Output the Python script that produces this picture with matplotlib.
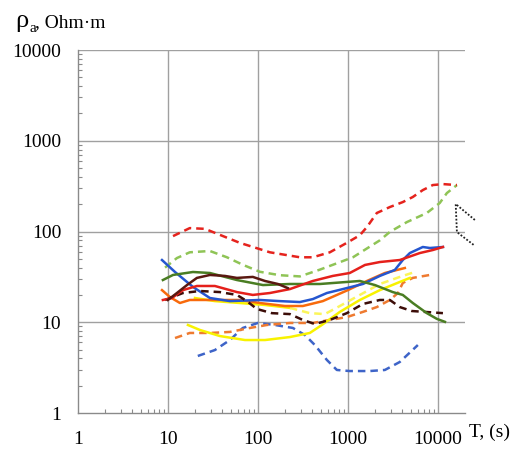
import matplotlib
matplotlib.use("Agg")
import matplotlib.pyplot as plt
from matplotlib.ticker import LogLocator, NullFormatter, FixedLocator

plt.rcParams['font.family'] = ['Liberation Serif', 'DejaVu Serif']

# apparent resistivity curves, period T (s) vs rho_a (Ohm*m)
red_dash_T = [11.4, 17.5, 25.8, 63, 136, 293, 408, 631, 975, 1360, 1630, 2100, 2930, 4080, 5270, 6810, 8790, 11400, 16300]
red_dash_r = [89, 109, 107, 75, 59, 52, 52, 59, 75, 91, 112, 160, 186, 211, 240, 286, 325, 333, 325]

green_dash_T = [9.3, 12.6, 17.5, 29.3, 45.3, 68, 105, 175, 293, 489, 1140, 2270, 2930, 4530, 7550, 10500, 12600, 16300]
green_dash_r = [40, 51, 59, 61, 52, 43, 36, 33, 32, 38, 52, 80, 99, 127, 160, 206, 265, 325]

blue_T = [8.6, 12, 19, 29.3, 48.9, 105, 175, 293, 408, 585, 879, 1470, 2270, 3330, 4080, 4890, 6810, 8150, 11400]
blue_r = [48.5, 35.8, 24.5, 18.5, 17.1, 17.6, 17.1, 16.7, 18, 21, 23.2, 26.4, 32.4, 37.7, 48.5, 57.9, 67.5, 65.8, 67.5]

dkgreen_T = [8.8, 11.4, 19, 29.3, 58.5, 114, 227, 489, 975, 1360, 2000, 3160, 4080, 5270, 7550, 9750, 12000]
dkgreen_r = [29.2, 33.2, 35.8, 34.9, 29.2, 25.7, 26.4, 26.4, 27.8, 28.5, 25.7, 21.5, 20, 16.3, 12.6, 10.9, 10.1]

brown_T = [10, 12.6, 16.3, 21, 29.3, 43, 58.5, 87.9, 120, 167, 215]
brown_r = [17.6, 21, 25.7, 30.8, 33.2, 32.4, 30.8, 31.6, 28.5, 26.4, 23.8]

red_T = [8.8, 11.1, 14.7, 21, 33.3, 58.5, 87.9, 136, 227, 408, 681, 1050, 1550, 2270, 3780, 6310, 8790, 11400]
red_r = [17.6, 18.5, 22.6, 25.1, 25.1, 21.5, 20, 21, 23.2, 28.5, 32.4, 34.9, 42.8, 46.1, 48.5, 57.9, 62.5, 67.5]

orange_T = [8.6, 10.5, 13.6, 17.5, 29.3, 63, 105, 200, 316, 527, 1000, 1630, 2580, 4300]
orange_r = [22.6, 19, 16.3, 17.6, 17.6, 17.6, 16.3, 15.1, 15.1, 17.1, 22.6, 28.5, 34.9, 39.6]

yellow_hi_T = [20, 33.3, 63, 120, 227]
yellow_hi_r = [18.5, 17.1, 16.3, 15.5, 14.4]

yellow_dash_T = [227, 378, 555, 815, 1360, 2270, 3780, 5550]
yellow_dash_r = [14.4, 12.6, 12.3, 15.1, 20, 26.4, 31.6, 35.8]

yellow_lo_T = [16.7, 22.7, 37.8, 71.8, 120, 227, 378, 514, 815, 1360, 2270, 3780, 4890]
yellow_lo_r = [9.33, 8.22, 7.05, 6.37, 6.37, 6.87, 7.62, 9.33, 13.0, 17.6, 22.6, 27.8, 30.8]

brown_dash_T = [9.3, 14.7, 22.7, 37.8, 58.5, 75.5, 97.5, 143, 227, 316, 430, 631, 975, 1470, 2270, 2930, 3780, 5140, 11400]
brown_dash_r = [17.6, 21, 22.1, 21.5, 20, 17.1, 14, 12.6, 12.3, 10.6, 9.57, 10.6, 12.6, 15.9, 17.6, 17.6, 14.7, 13.3, 12.6]

orange_dash_T = [12, 17.5, 29.3, 48.9, 81.5, 126, 227, 408, 631, 975, 1470, 2100, 2930, 3600, 4080, 5270, 8150]
orange_dash_r = [6.7, 7.62, 7.62, 7.82, 8.65, 9.33, 9.82, 9.82, 10.6, 11.4, 13.0, 14.7, 17.6, 21, 27.1, 30.8, 33.2]

blue_dash_T = [21.5, 33.3, 48.9, 68, 100, 155, 245, 333, 430, 585, 755, 1050, 1750, 2580, 3780, 6000]
blue_dash_r = [4.25, 4.94, 6.37, 8.65, 9.82, 9.33, 8.65, 7.24, 5.61, 3.84, 2.98, 2.9, 2.9, 2.98, 3.65, 5.61]

wedge_T = [25800, 15800, 16300, 25100]
wedge_r = [134, 201, 98.6, 71]

tick_vals = [1, 10, 100, 1000, 10000]
tick_text = ['1', '10', '100', '1000', '10000']

fig = plt.figure(figsize=(5.3, 4.53), dpi=100)
ax = fig.add_axes([0.147, 0.0883, 0.730, 0.8013])
ax.set_xscale('log')
ax.set_yscale('log')
ax.set_xlim(1, 10 ** 4.3)
ax.set_ylim(1, 10000)

grid_c = '#a0a0a0'
for v in tick_vals[1:]:
    ax.axvline(v, color=grid_c, lw=1.0, zorder=1)
    ax.axhline(v, color=grid_c, lw=1.0, zorder=1)

for s in ['top', 'right']:
    ax.spines[s].set_visible(False)
for s in ['left', 'bottom']:
    ax.spines[s].set_color('#8a8a8a')
    ax.spines[s].set_linewidth(1.0)

ax.xaxis.set_major_locator(FixedLocator(tick_vals))
ax.yaxis.set_major_locator(FixedLocator(tick_vals))
ax.set_xticklabels(tick_text)
ax.set_yticklabels(tick_text)
ax.xaxis.set_minor_locator(LogLocator(base=10, subs=range(2, 10), numticks=20))
ax.yaxis.set_minor_locator(LogLocator(base=10, subs=range(2, 10), numticks=20))
ax.xaxis.set_minor_formatter(NullFormatter())
ax.yaxis.set_minor_formatter(NullFormatter())
ax.tick_params(which='major', length=0, labelsize=14, pad=12)
ax.tick_params(axis='x', which='major', pad=13)
ax.tick_params(which='minor', direction='in', length=3, width=0.8, color='#8a8a8a')

lw = 1.8
dash = (3, 2)
ax.plot(blue_dash_T, blue_dash_r, color='#3e64c8', lw=lw, dashes=dash, zorder=3)
ax.plot(orange_dash_T, orange_dash_r, color='#ee7a30', lw=lw, dashes=dash, zorder=3)
ax.plot(yellow_lo_T, yellow_lo_r, color='#f8f200', lw=lw, zorder=3)
ax.plot(yellow_hi_T, yellow_hi_r, color='#f8f200', lw=lw, zorder=3)
ax.plot(yellow_dash_T, yellow_dash_r, color='#fbf55a', lw=lw, dashes=dash, zorder=3)
ax.plot(orange_T, orange_r, color='#f86a0c', lw=lw, zorder=4)
ax.plot(blue_T, blue_r, color='#2556cf', lw=lw, zorder=4)
ax.plot(brown_dash_T, brown_dash_r, color='#3c0d08', lw=lw, dashes=dash, zorder=4)
ax.plot(dkgreen_T, dkgreen_r, color='#4a7d23', lw=lw, zorder=4)
ax.plot(red_T, red_r, color='#e5201b', lw=lw, zorder=5)
ax.plot(brown_T, brown_r, color='#5a1810', lw=lw, zorder=5)
ax.plot(green_dash_T, green_dash_r, color='#8fc456', lw=lw, dashes=dash, zorder=3)
ax.plot(red_dash_T, red_dash_r, color='#e5231d', lw=lw, dashes=dash, zorder=3)
ax.plot(wedge_T, wedge_r, color='#222222', lw=1.3, ls=(0, (1, 1)), clip_on=False, zorder=3)

# axis titles
ax.text(1.01, -0.03, 'T, (s)', transform=ax.transAxes, fontsize=14, ha='left', va='top')
fig.text(15 / 530, 1 - 27 / 453, 'ρ', fontsize=19, ha='left', va='baseline')
fig.text(29 / 530, 1 - 32 / 453, 'a', fontsize=11, ha='left', va='baseline')
fig.text(35 / 530, 1 - 27 / 453, ', Ohm·m', fontsize=14, ha='left', va='baseline')

fig.savefig('out.png', dpi=100)
